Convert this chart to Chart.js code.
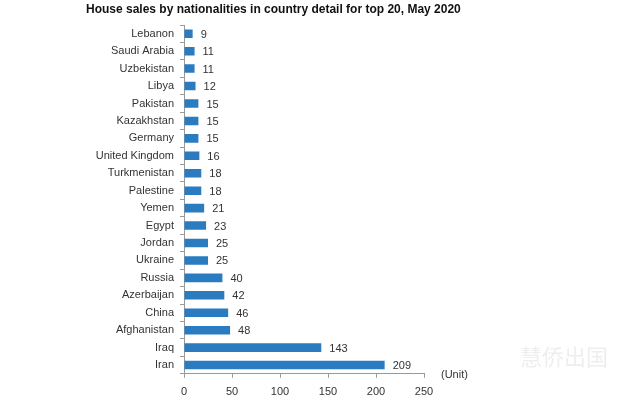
<!DOCTYPE html>
<html>
<head>
<meta charset="utf-8">
<script src="https://cdn.jsdelivr.net/npm/chart.js@4.4.1/dist/chart.umd.min.js"></script>
<style>
html,body{margin:0;padding:0;background:#fff;}
#wrap{position:relative;width:627px;height:412px;}
canvas{display:block;}
</style>
</head>
<body>
<div id="wrap"><canvas id="c" width="627" height="412"></canvas></div>
<script>
const titleText = "House sales by nationalities in country detail for top 20, May 2020";
const countries = ["Lebanon","Saudi Arabia","Uzbekistan","Libya","Pakistan","Kazakhstan","Germany","United Kingdom","Turkmenistan","Palestine","Yemen","Egypt","Jordan","Ukraine","Russia","Azerbaijan","China","Afghanistan","Iraq","Iran"];
const sales = [9,11,11,12,15,15,15,16,18,18,21,23,25,25,40,42,46,48,143,209];
const xTicks = [0,50,100,150,200,250];
const unitLabel = "(Unit)";
const watermark = "慧侨出国";

const labelPlugin = {
  id: 'valueLabels',
  afterDatasetsDraw(chart) {
    const ctx = chart.ctx;
    const meta = chart.getDatasetMeta(0);
    ctx.save();
    ctx.font = '11px "Liberation Sans", Arial, sans-serif';
    ctx.fillStyle = '#333';
    ctx.textAlign = 'left';
    ctx.textBaseline = 'middle';
    meta.data.forEach((bar, i) => {
      ctx.fillText(String(sales[i]), bar.x + 8, bar.y + 1);
    });
    const xs = chart.scales.x;
    ctx.fillText(unitLabel, xs.right + 17, xs.top + 1);
    // title
    ctx.font = 'bold 12px "Liberation Sans", Arial, sans-serif';
    ctx.fillStyle = '#111';
    ctx.fillText(titleText, 86, 10);
    // faint watermark
    ctx.font = '22px "Noto Sans CJK SC", sans-serif';
    ctx.fillStyle = 'rgba(200,200,200,0.3)';
    ctx.fillText(watermark, 520, 357);
    ctx.restore();
  }
};

new Chart(document.getElementById('c'), {
  type: 'bar',
  data: {
    labels: countries,
    datasets: [{
      data: sales,
      backgroundColor: '#2a7bc0',
      borderWidth: 0,
      categoryPercentage: 1.0,
      barPercentage: 0.49
    }]
  },
  plugins: [labelPlugin],
  options: {
    indexAxis: 'y',
    responsive: false,
    animation: false,
    devicePixelRatio: 1,
    layout: { padding: { left: 86, right: 203, top: 25, bottom: 5 } },
    plugins: {
      legend: { display: false },
      tooltip: { enabled: false },
      title: { display: false }
    },
    scales: {
      x: {
        min: 0, max: 250,
        afterBuildTicks(scale) { scale.ticks = xTicks.map(v => ({ value: v })); },
        grid: { drawOnChartArea: false, drawTicks: true, tickLength: 4, color: '#999' },
        border: { color: '#999' },
        ticks: { color: '#333', padding: 8, font: { family: '"Liberation Sans", Arial, sans-serif', size: 11 } }
      },
      y: {
        afterFit(scale) { scale.width = 98; },
        grid: { drawOnChartArea: false, drawTicks: true, tickLength: 4, color: '#999', offset: true },
        border: { color: '#999' },
        ticks: { color: '#333', padding: 6, autoSkip: false, font: { family: '"Liberation Sans", Arial, sans-serif', size: 11 } }
      }
    }
  }
});
</script>
</body>
</html>
